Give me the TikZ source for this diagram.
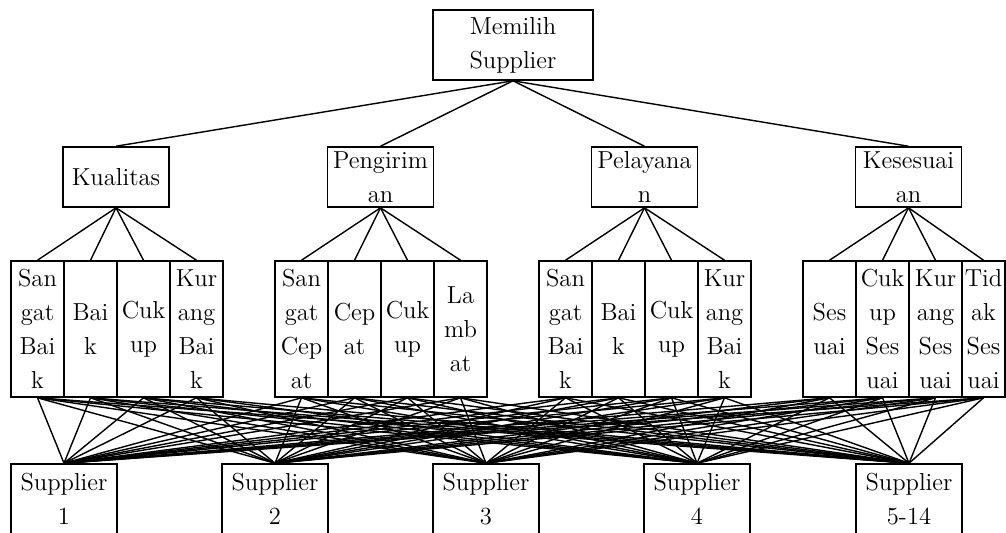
\documentclass[tikz,border=0pt]{standalone}
\usepackage{tikz}

\begin{document}
\begin{tikzpicture}[x=0.02cm,y=-0.02cm,
    box/.style={draw,line width=0.9pt,rectangle,align=center,inner sep=0pt,
      font=\fontsize{14}{19.3}\selectfont},
    crit/.style={box,minimum width=2.12cm,minimum height=1.2cm},
    sub/.style={box,minimum width=1.06cm,minimum height=2.72cm},
    alt/.style={box,minimum width=2.12cm,minimum height=1.4cm},
    edge/.style={line width=0.8pt}]

\useasboundingbox (0,0) rectangle (1006,532);

\node[box,minimum width=3.2cm,minimum height=1.4cm] (goal) at (513,45) {Memilih\\Supplier};

\node[crit] (c1) at (116,177) {Kualitas};
\node[crit] (c2) at (380.5,177) {Pengirim\\an};
\node[crit] (c3) at (644.5,177) {Pelayana\\n};
\node[crit] (c4) at (908.5,177) {Kesesuai\\an};

\node[sub] (s1) at (37.5,329) {San\\gat\\Bai\\k};
\node[sub] (s2) at (90.5,329) {Bai\\k};
\node[sub] (s3) at (143.5,329) {Cuk\\up};
\node[sub] (s4) at (196.5,329) {Kur\\ang\\Bai\\k};

\node[sub] (s5) at (301.5,329) {San\\gat\\Cep\\at};
\node[sub] (s6) at (354.5,329) {Cep\\at};
\node[sub] (s7) at (407.5,329) {Cuk\\up};
\node[sub] (s8) at (460.5,329) {La\\mb\\at};

\node[sub] (s9) at (565.5,329) {San\\gat\\Bai\\k};
\node[sub] (s10) at (618.5,329) {Bai\\k};
\node[sub] (s11) at (671.5,329) {Cuk\\up};
\node[sub] (s12) at (724.5,329) {Kur\\ang\\Bai\\k};

\node[sub] (s13) at (829.5,329) {Ses\\uai};
\node[sub] (s14) at (882.5,329) {Cuk\\up\\Ses\\uai};
\node[sub] (s15) at (935.5,329) {Kur\\ang\\Ses\\uai};
\node[sub,minimum width=0.86cm] (s16) at (983.5,329) {Tid\\ak\\Ses\\uai};

\node[alt] (a1) at (64,499) {Supplier\\1};
\node[alt] (a2) at (275,499) {Supplier\\2};
\node[alt] (a3) at (486,499) {Supplier\\3};
\node[alt] (a4) at (697,499) {Supplier\\4};
\node[alt] (a5) at (909,499) {Supplier\\5-14};

\foreach \c in {1,...,4}
  \draw[edge] (goal.south) -- (c\c.north);

\foreach \c [evaluate=\c as \first using int(4*\c-3),
             evaluate=\c as \last using int(4*\c)] in {1,...,4}
  \foreach \s in {\first,...,\last}
    \draw[edge] (c\c.south) -- (s\s.north);

\foreach \s in {1,...,16}
  \foreach \a in {1,...,5}
    \draw[edge] (s\s.south) -- (a\a.north);
\end{tikzpicture}
\end{document}
